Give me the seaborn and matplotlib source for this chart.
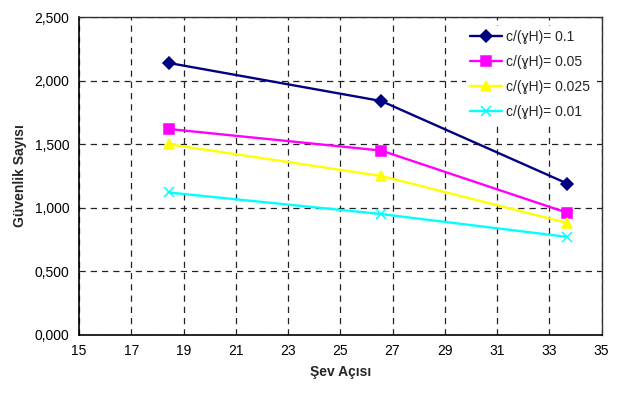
import matplotlib
matplotlib.use("Agg")
import matplotlib.pyplot as plt
import seaborn as sns
import pandas as pd
from matplotlib.ticker import FuncFormatter

# Slope angles (degrees) for slopes 1:3, 1:2 and 1:1.5
angles = [18.43, 26.57, 33.69]

series_labels = ["c/(ɣH)= 0.1", "c/(ɣH)= 0.05", "c/(ɣH)= 0.025", "c/(ɣH)= 0.01"]
fs_01 = [2.14, 1.84, 1.19]
fs_005 = [1.62, 1.45, 0.96]
fs_0025 = [1.50, 1.25, 0.88]
fs_001 = [1.12, 0.95, 0.77]

x_ticks = [15, 17, 19, 21, 23, 25, 27, 29, 31, 33, 35]
y_ticks = [0.0, 0.5, 1.0, 1.5, 2.0, 2.5]

colors = ["#000080", "#FF00FF", "#FFFF00", "#00FFFF"]
markers = ["D", "s", "^", "x"]
msizes = [6, 7, 7.5, 7.5]

sns.set_style("white")
plt.rcParams["font.family"] = ["Liberation Sans", "DejaVu Sans"]

fig = plt.figure(figsize=(6.24, 3.93), dpi=100)
ax = fig.add_axes([0.1266, 0.1483, 0.8374, 0.8079])

for lab, vals, c, m, ms in zip(series_labels, [fs_01, fs_005, fs_0025, fs_001],
                               colors, markers, msizes):
    df = pd.DataFrame({"angle": angles, "fs": vals})
    sns.lineplot(data=df, x="angle", y="fs", color=c, marker=m, markersize=ms,
                 markeredgecolor=c, markerfacecolor=c, markeredgewidth=1.1,
                 linewidth=1.7, label=lab, ax=ax, sort=False)

ax.set_xlim(15, 35)
ax.set_ylim(0, 2.5)
ax.set_xticks(x_ticks)
ax.set_yticks(y_ticks)
ax.yaxis.set_major_formatter(FuncFormatter(lambda v, p: f"{v:.3f}".replace(".", ",")))
ax.tick_params(axis="both", direction="out", length=4, width=1, labelsize=10,
               colors="black", pad=3)

ax.grid(True, color="#222222", linestyle=(0, (5, 4)), linewidth=0.9)
ax.set_axisbelow(True)

for side in ["left", "bottom"]:
    ax.spines[side].set_color("black")
    ax.spines[side].set_linewidth(1.2)
for side in ["top", "right"]:
    ax.spines[side].set_color("#333333")
    ax.spines[side].set_linewidth(1.0)

ax.set_xlabel("Şev Açısı", fontsize=10, fontweight="bold", labelpad=5)
ax.set_ylabel("Güvenlik Sayısı", fontsize=10, fontweight="bold", labelpad=5)

leg = ax.legend(loc="upper right", bbox_to_anchor=(1.0, 0.995), fontsize=10,
                frameon=True, framealpha=1, edgecolor="white", fancybox=False,
                handlelength=2.3, handletextpad=0.3, labelspacing=0.8,
                borderpad=0.3)
leg.get_frame().set_linewidth(0)

fig.savefig("out.png", dpi=100)
